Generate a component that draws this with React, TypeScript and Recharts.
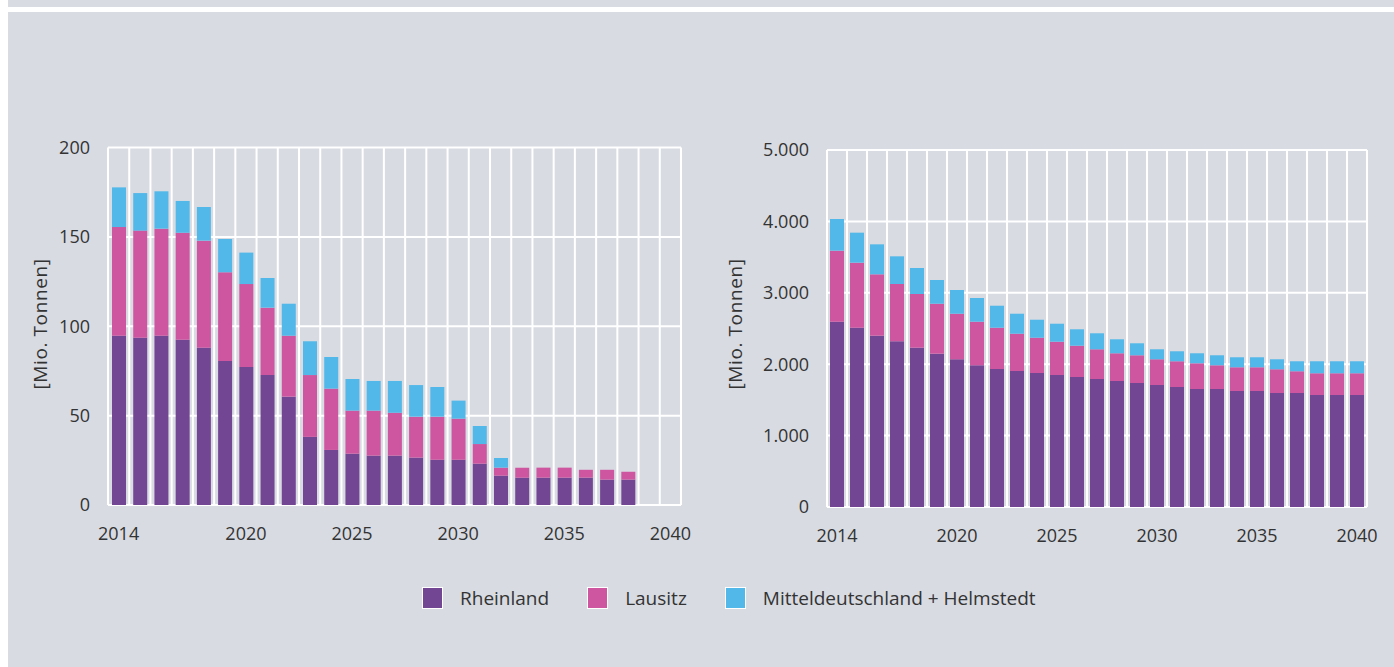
import { Bar, BarChart, CartesianGrid, XAxis, YAxis } from "recharts";

// Jahre 2014–2040
const years = Array.from({ length: 27 }, (_, i) => String(2014 + i));
const xTickLabels = ["2014", "2020", "2025", "2030", "2035", "2040"];

// Linkes Diagramm: jährliche Förderung [Mio. Tonnen]
const rheinlandYear = [94.7, 93.6, 94.7, 92.5, 88.0, 80.6, 77.2, 72.7, 60.6, 38.1, 30.8, 28.7, 27.6, 27.6, 26.5, 25.3, 25.3, 23.1, 16.4, 15.3, 15.3, 15.3, 15.3, 14.2, 14.2, null, null];
const lausitzYear = [60.8, 59.9, 59.9, 59.8, 59.9, 49.6, 46.4, 37.7, 34.1, 34.6, 34.3, 24.1, 25.2, 24.0, 22.9, 24.1, 23.0, 11.0, 4.5, 5.6, 5.6, 5.6, 4.4, 5.5, 4.4, null, null];
const mitteldeutschlandYear = [22.2, 21.0, 20.9, 17.8, 18.8, 18.6, 17.6, 16.6, 17.9, 18.9, 17.7, 17.7, 16.6, 17.8, 17.7, 16.6, 10.1, 10.1, 5.4, 0, 0, 0, 0, 0, 0, null, null];
const yTicksLeft = [0, 50, 100, 150, 200];

// Rechtes Diagramm: verbleibende Vorräte [Mio. Tonnen]
const rheinlandTotal = [2595, 2511, 2399, 2321, 2231, 2147, 2069, 1985, 1933, 1905, 1877, 1849, 1821, 1793, 1765, 1737, 1709, 1681, 1653, 1653, 1625, 1625, 1597, 1597, 1569, 1569, 1569];
const lausitzTotal = [995, 911, 860, 802, 752, 700, 638, 610, 578, 522, 494, 466, 438, 416, 388, 388, 360, 360, 360, 332, 332, 332, 332, 304, 304, 304, 304];
const mitteldeutschlandTotal = [444, 420, 420, 388, 364, 332, 332, 332, 308, 280, 252, 252, 230, 224, 196, 168, 140, 140, 140, 140, 140, 140, 140, 140, 168, 168, 168];
const yTicksRight = [0, 1000, 2000, 3000, 4000, 5000];

const series = [
  { key: "rheinland", name: "Rheinland", color: "#734694" },
  { key: "lausitz", name: "Lausitz", color: "#ce56a0" },
  { key: "mittel", name: "Mitteldeutschland + Helmstedt", color: "#52b8e9" },
];

const yearData = years.map((year, i) => ({
  year,
  rheinland: rheinlandYear[i],
  lausitz: lausitzYear[i],
  mittel: mitteldeutschlandYear[i],
}));

const totalData = years.map((year, i) => ({
  year,
  rheinland: rheinlandTotal[i],
  lausitz: lausitzTotal[i],
  mittel: mitteldeutschlandTotal[i],
}));

const BG = "#d8dbe2";
const TEXT = "#333333";
const FONT = "'Open Sans', sans-serif";

const fmtDe = (v: number) => String(v).replace(/\B(?=(\d{3})+(?!\d))/g, ".");

// vertical grid lines on the band edges, not on band centers
const bandEdges = ({ offset }: any) =>
  Array.from({ length: years.length + 1 }, (_, i) => offset.left + (i * offset.width) / years.length);

type ChartProps = { data: any[]; ticks: number[]; width: number; margin: { top: number; right: number; bottom: number; left: number } };

function StackChart({ data, ticks, width, margin }: ChartProps) {
  return (
    <BarChart width={width} height={460} data={data} margin={margin} barSize={14}>
      <CartesianGrid stroke="#ffffff" strokeWidth={2} verticalCoordinatesGenerator={bandEdges} />
      <XAxis
        dataKey="year"
        interval={0}
        height={30}
        axisLine={false}
        tickLine={false}
        tickMargin={16}
        tickFormatter={(y: string) => (xTickLabels.includes(y) ? y : "")}
        tick={{ fill: TEXT, fontSize: 18, fontFamily: FONT }}
      />
      <YAxis
        width={100}
        domain={[0, ticks[ticks.length - 1]]}
        ticks={ticks}
        axisLine={false}
        tickLine={false}
        tickMargin={12}
        tickFormatter={fmtDe}
        tick={{ fill: TEXT, fontSize: 18, fontFamily: FONT }}
      />
      {series.map((s) => (
        <Bar key={s.key} dataKey={s.key} name={s.name} stackId="a" fill={s.color} isAnimationActive={false} />
      ))}
    </BarChart>
  );
}

const yLabelStyle = (left: number): React.CSSProperties => ({
  position: "absolute",
  left,
  top: 324,
  transform: "translate(-50%, -50%) rotate(-90deg)",
  whiteSpace: "nowrap",
  fontFamily: FONT,
  fontSize: 19,
  letterSpacing: 0.6,
  color: TEXT,
});

export default function App() {
  return (
    <div style={{ position: "absolute", left: 8, top: 0, width: 1386, height: 667, background: "#ffffff", overflow: "hidden" }}>
      <div style={{ position: "absolute", left: 0, top: 0, width: 1386, height: 7, background: BG }} />
      <div style={{ position: "absolute", left: 0, top: 12, width: 1386, height: 655, background: BG }} />

      <div style={{ position: "absolute", left: 0, top: 100 }}>
        <StackChart data={yearData} ticks={yTicksLeft} width={700} margin={{ top: 47.5, right: 27, bottom: 25, left: 0 }} />
      </div>
      <div style={yLabelStyle(32)}>[Mio. Tonnen]</div>

      <div style={{ position: "absolute", left: 719, top: 100 }}>
        <StackChart data={totalData} ticks={yTicksRight} width={660} margin={{ top: 50, right: 20, bottom: 23, left: 0 }} />
      </div>
      <div style={yLabelStyle(727)}>[Mio. Tonnen]</div>

      <div
        style={{
          position: "absolute",
          left: 414,
          top: 585,
          display: "flex",
          alignItems: "center",
          fontFamily: FONT,
          fontSize: 19,
          color: TEXT,
        }}
      >
        {series.map((s) => (
          <div key={s.key} style={{ display: "flex", alignItems: "center", marginRight: 38 }}>
            <span
              style={{
                display: "inline-block",
                width: 19,
                height: 20,
                background: s.color,
                border: "1px solid #ffffff",
                marginRight: 17,
              }}
            />
            <span>{s.name}</span>
          </div>
        ))}
      </div>
    </div>
  );
}
